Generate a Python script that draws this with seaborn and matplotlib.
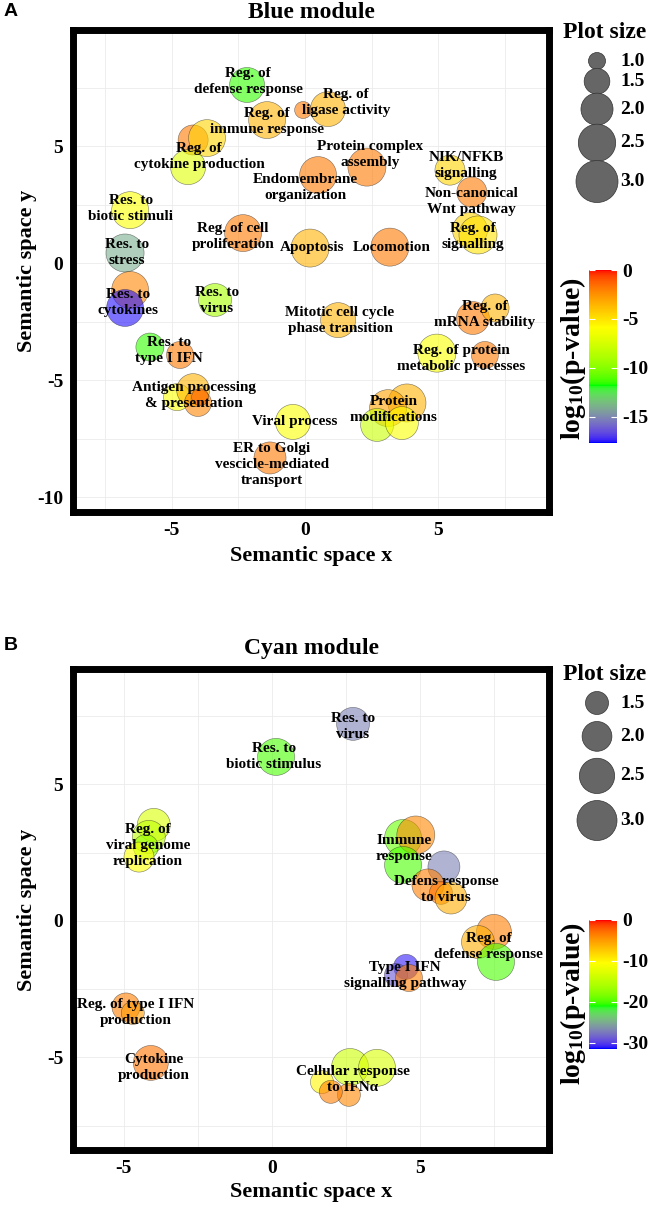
import numpy as np
import pandas as pd
import seaborn as sns
import matplotlib.pyplot as plt
from matplotlib.colors import ListedColormap, Normalize, to_rgb
from matplotlib.cm import ScalarMappable

# ---------------- Blue module (panel A) ----------------
a_x = [-2.17, -1.42, -0.07, 0.86, -4.19, -3.67, -4.38, 0.49, 2.32, -6.55,
       -2.32, 0.19, 3.18, 5.43, 6.25, 6.18, 6.48, -6.74, -6.55, -6.74,
       -3.37, -5.81, -4.68, -4.79, -4.19, -4.01, -3.93, -0.45, -1.31, 1.24,
       6.29, 7.12, 4.94, 6.74, 3.82, 3.11, 2.70, 3.63]
a_y = [7.61, 6.11, 6.54, 6.58, 5.26, 5.34, 4.10, 3.76, 4.10, 2.26,
       1.28, 0.64, 0.68, 3.97, 3.03, 1.41, 1.20, 0.43, -1.15, -1.92,
       -1.58, -3.59, -3.93, -5.73, -5.43, -5.98, -5.73, -6.79, -8.33, -2.44,
       -2.35, -1.92, -3.85, -3.93, -5.98, -6.20, -6.92, -6.84]
a_size = [2.27, 2.46, 0.80, 2.27, 1.83, 2.46, 2.27, 2.46, 2.57, 2.46,
          2.46, 2.57, 2.57, 1.83, 1.83, 2.27, 2.57, 2.57, 2.46, 2.46,
          2.08, 1.67, 1.60, 1.60, 2.08, 1.60, 0.84, 2.27, 2.00, 2.27,
          2.08, 1.67, 2.57, 1.60, 2.57, 2.46, 2.08, 2.08]
a_logp = [-11.5, -3.5, -1.8, -3.5, -1.8, -4.5, -7.0, -1.8, -1.8, -6.0,
          -1.8, -3.5, -1.8, -4.5, -1.8, -4.5, -5.0, -14.0, -2.2, -17.5,
          -9.0, -11.5, -1.8, -6.0, -3.5, -2.2, -1.5, -6.0, -1.8, -3.5,
          -1.8, -3.5, -6.0, -1.8, -3.5, -3.0, -8.0, -6.0]
a_terms = ["Reg. of\ndefense response", "Reg. of\nimmune response", "Reg. of\nligase activity",
           "Reg. of\ncytokine production", "Protein complex\nassembly", "Endomembrane\norganization",
           "NIK/NFKB\nsignalling", "Non-canonical\nWnt pathway", "Reg. of\nsignalling",
           "Res. to\nbiotic stimuli", "Reg. of cell\nproliferation", "Apoptosis", "Locomotion",
           "Res. to\nstress", "Res. to\ncytokines", "Res. to\nvirus", "Res. to\ntype I IFN",
           "Antigen processing\n& presentation", "Viral process",
           "ER to Golgi\nvescicle-mediated\ntransport", "Mitotic cell cycle\nphase transition",
           "Reg. of\nmRNA stability", "Reg. of protein\nmetabolic processes", "Protein\nmodifications"]
a_tx = [-2.13, -1.42, 1.54, -3.97, 2.43, 0.00, 6.03, 6.25, 6.29, -6.52, -2.70, 0.26, 3.26,
        -6.67, -6.63, -3.30, -5.09, -4.16, -0.37, -1.24, 1.31, 6.74, 5.84, 3.33]
a_ty = [7.78, 6.03, 6.88, 4.57, 4.62, 3.25, 4.19, 2.65, 1.15, 2.31, 1.15, 0.68, 0.68,
        0.43, -1.67, -1.62, -3.72, -5.64, -6.79, -8.63, -2.44, -2.22, -4.06, -6.28]
a_size_breaks = [1.0, 1.5, 2.0, 2.5, 3.0]
a_cbar_ticks = [0, -5, -10, -15]
a_color_stops = [-17.7, -11.8, -5.9, 0.0]

# ---------------- Cyan module (panel B) ----------------
b_x = [2.74, 0.14, -3.99, -4.16, -4.26, -4.49, 4.43, 4.86, 4.43, 5.81,
       5.27, 5.71, 6.05, 7.50, 6.96, 7.57, 4.53, 4.19, 4.63, 2.64,
       3.55, 1.69, 2.60, 1.99, -4.93, -4.70, -4.09]
b_y = [7.22, 6.01, 3.52, 3.08, 2.71, 2.34, 3.04, 3.15, 2.05, 1.98,
       1.32, 1.03, 0.84, -0.40, -0.77, -1.50, -1.68, -1.98, -2.09, -5.35,
       -5.38, -5.90, -6.37, -6.26, -3.15, -3.37, -5.20]
b_size = [2.28, 2.68, 2.28, 2.28, 1.63, 2.02, 2.68, 2.78, 2.68, 2.19,
          2.19, 1.16, 2.19, 2.47, 2.28, 2.68, 1.63, 1.16, 1.78, 2.68,
          2.68, 1.16, 1.21, 0.83, 1.86, 1.21, 2.47]
b_logp = [-27.0, -20.0, -13.0, -15.0, -17.0, -10.5, -19.0, -4.0, -20.0, -27.0,
          -3.5, -3.0, -6.0, -3.5, -6.0, -20.0, -31.0, -29.0, -3.5, -14.0,
          -13.0, -10.0, -4.0, -3.5, -3.5, -5.0, -3.0]
b_terms = ["Res. to\nvirus", "Res. to\nbiotic stimulus", "Reg. of\nviral genome\nreplication",
           "Immune\nresponse", "Defens response\nto virus", "Reg. of\ndefense response",
           "Type I IFN\nsignalling pathway", "Cellular response\nto IFNα",
           "Reg. of type I IFN\nproduction", "Cytokine\nproduction"]
b_tx = [2.74, 0.07, -4.19, 4.46, 5.88, 7.33, 4.49, 2.74, -4.59, -3.99]
b_ty = [7.11, 6.01, 2.75, 2.67, 1.17, -0.92, -2.01, -5.82, -3.37, -5.35]
b_size_breaks = [1.5, 2.0, 2.5, 3.0]
b_cbar_ticks = [0, -10, -20, -30]
b_color_stops = [-31.5, -21.0, -10.5, 0.0]

stop_colors = ["blue", "#00ff00", "yellow", "red"]

W, H = 653, 1207
SERIF = "Liberation Serif"
plt.rcParams["axes.unicode_minus"] = False
plt.rcParams["mathtext.fontset"] = "custom"
plt.rcParams["mathtext.rm"] = "Liberation Serif:bold"
plt.rcParams["mathtext.it"] = "Liberation Serif:bold"
plt.rcParams["mathtext.bf"] = "Liberation Serif:bold"


def box(l, t, r, b):
    return [l / W, 1 - b / H, (r - l) / W, (b - t) / H]


M = np.array([[0.4124, 0.3576, 0.1805], [0.2126, 0.7152, 0.0722], [0.0193, 0.1192, 0.9505]])
WHITE = np.array([0.95047, 1.0, 1.08883])


def to_lab(rgb):
    c = np.asarray(rgb, float)
    c = np.where(c > 0.04045, ((c + 0.055) / 1.055) ** 2.4, c / 12.92)
    xyz = M @ c / WHITE
    f = np.where(xyz > 0.008856, np.cbrt(xyz), 7.787 * xyz + 16 / 116)
    return np.array([116 * f[1] - 16, 500 * (f[0] - f[1]), 200 * (f[1] - f[2])])


def from_lab(lab):
    fy = (lab[0] + 16) / 116
    f = np.array([fy + lab[1] / 500, fy, fy - lab[2] / 200])
    xyz = np.where(f ** 3 > 0.008856, f ** 3, (f - 16 / 116) / 7.787) * WHITE
    c = np.clip(np.linalg.solve(M, xyz), 0, 1)
    c = np.where(c > 0.0031308, 1.055 * c ** (1 / 2.4) - 0.055, 12.92 * c)
    return np.clip(c, 0, 1)


def lab_cmap(stops):
    # gradient like ggplot's gradientn: interpolation in CIELAB
    pos = (np.array(stops) - stops[0]) / (stops[-1] - stops[0])
    labs = [to_lab(to_rgb(c)) for c in stop_colors]
    cols = []
    for t in np.linspace(0, 1, 256):
        i = min(np.searchsorted(pos, t, side="right") - 1, len(pos) - 2)
        w = (t - pos[i]) / (pos[i + 1] - pos[i])
        cols.append(from_lab(labs[i] * (1 - w) + labs[i + 1] * w))
    return ListedColormap(cols)


def panel(fig, rect, df, labels, xlim, ylim, yticks, cmap, vmin, d_lo, d_hi, v_lo, v_hi):
    ax = fig.add_axes(rect)
    sns.scatterplot(data=df, x="x", y="y", hue="logp", size="size", palette=cmap,
                    hue_norm=(vmin, 0), sizes=((d_lo * 0.72) ** 2, (d_hi * 0.72) ** 2),
                    size_norm=(v_lo, v_hi), alpha=0.6, edgecolor="#222222", linewidth=0.4,
                    legend=False, ax=ax, zorder=2)
    for t, tx, ty in zip(*labels):
        ax.text(tx, ty, t, ha="center", va="center", fontfamily=SERIF, fontweight="bold",
                fontsize=11, linespacing=1.3, zorder=3)
    ax.set_xticks([-5, 0, 5])
    ax.set_yticks(yticks)
    ax.set_xticks(np.arange(-7.5, 10, 2.5), minor=True)
    ax.set_yticks(np.arange(-10, 10.1, 2.5), minor=True)
    # limits after the ticks, so the tick lists do not widen the view
    ax.set_xlim(*xlim)
    ax.set_ylim(*ylim)
    ax.grid(True, which="both", color="#ebebeb", lw=0.6)
    ax.set_axisbelow(True)
    ax.tick_params(which="both", length=0)
    ax.tick_params(axis="x", pad=7)
    ax.tick_params(axis="y", pad=7)
    for lab in ax.get_xticklabels() + ax.get_yticklabels():
        lab.set_fontfamily(SERIF)
        lab.set_fontweight("bold")
        lab.set_fontsize(14)
    for s in ax.spines.values():
        s.set_linewidth(5)
        s.set_color("black")
    ax.set_xlabel("")
    ax.set_ylabel("")
    return ax


def size_legend(fig, first, breaks, d_lo, d_hi, v_lo, v_hi, gap):
    ax = fig.add_axes(box(553, first - 50, 653, first + 200))
    ax.set_xlim(553, 653)
    ax.set_ylim(first + 200, first - 50)
    ax.axis("off")
    b = np.array(breaks)
    d = np.sqrt(d_lo ** 2 + (b - v_lo) / (v_hi - v_lo) * (d_hi ** 2 - d_lo ** 2))
    ys = first + np.concatenate([[0], np.cumsum((d[:-1] + d[1:]) / 2 + gap)])
    ax.scatter(np.full(len(d), 597), ys, s=(d * 0.72) ** 2, color="#666666",
               edgecolor="#333333", linewidth=0.5)
    for yy, v in zip(ys, breaks):
        ax.text(620, yy, f"{v:.1f}", ha="left", va="center", fontfamily=SERIF,
                fontweight="bold", fontsize=14)
    ax.text(605, first - 28, "Plot size", ha="center", va="center", fontfamily=SERIF,
            fontweight="bold", fontsize=17)


def colorbar(fig, top, bottom, cmap, vmin, ticks, label_y):
    cax = fig.add_axes(box(589, top, 617, bottom))
    cb = fig.colorbar(ScalarMappable(norm=Normalize(vmin, 0), cmap=cmap), cax=cax)
    cb.outline.set_visible(False)
    cb.set_ticks(ticks)
    cax.tick_params(axis="y", direction="in", color="white", length=4, width=0.8,
                    left=True, right=True, labelleft=False, labelright=True, pad=4)
    for lab in cax.get_yticklabels():
        lab.set_fontfamily(SERIF)
        lab.set_fontweight("bold")
        lab.set_fontsize(14)
    fig.text(573 / W, 1 - label_y / H, "log$_{10}$(p-value)", rotation=90, ha="center",
             va="center", fontfamily=SERIF, fontweight="bold", fontsize=20)


fig = plt.figure(figsize=(W / 100, H / 100), dpi=100)

df_a = pd.DataFrame({"x": a_x, "y": a_y, "size": a_size, "logp": a_logp})
df_b = pd.DataFrame({"x": b_x, "y": b_y, "size": b_size, "logp": b_logp})
cmap_a = lab_cmap(a_color_stops)
cmap_b = lab_cmap(b_color_stops)

panel(fig, box(73, 30, 549, 512), df_a, (a_terms, a_tx, a_ty), (-8.69, 9.14), (-10.64, 9.96),
      [-10, -5, 0, 5, 10], cmap_a, a_color_stops[0], 17, 42, 1.0, 3.0)
panel(fig, box(73, 669, 549, 1150), df_b, (b_terms, b_tx, b_ty), (-6.72, 9.36), (-8.39, 9.23),
      [-5, 0, 5], cmap_b, b_color_stops[0], 23, 40, 1.5, 3.0)

size_legend(fig, 61, a_size_breaks, 17, 42, 1.0, 3.0, -1)
size_legend(fig, 703, b_size_breaks, 23, 40, 1.5, 3.0, 7)
colorbar(fig, 270, 443, cmap_a, a_color_stops[0], a_cbar_ticks, 358)
colorbar(fig, 920, 1049, cmap_b, b_color_stops[0], b_cbar_ticks, 1003)

title_kw = dict(ha="center", va="center", fontfamily=SERIF, fontweight="bold")
fig.text(311 / W, 1 - 13 / H, "Blue module", fontsize=17, **title_kw)
fig.text(311 / W, 1 - 648 / H, "Cyan module", fontsize=17, **title_kw)
fig.text(311 / W, 1 - 556 / H, "Semantic space x", fontsize=16, **title_kw)
fig.text(311 / W, 1 - 1192 / H, "Semantic space x", fontsize=16, **title_kw)
fig.text(27 / W, 1 - 271 / H, "Semantic space y", fontsize=16, rotation=90, **title_kw)
fig.text(27 / W, 1 - 910 / H, "Semantic space y", fontsize=16, rotation=90, **title_kw)
fig.text(11 / W, 1 - 12 / H, "A", ha="center", va="center", fontfamily="Liberation Sans",
         fontweight="bold", fontsize=14)
fig.text(11 / W, 1 - 645 / H, "B", ha="center", va="center", fontfamily="Liberation Sans",
         fontweight="bold", fontsize=14)

fig.savefig("out.png", dpi=100, facecolor="white")
